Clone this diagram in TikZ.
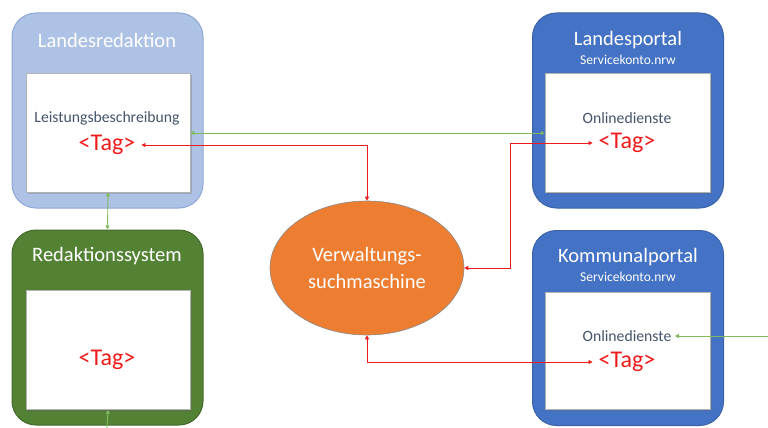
\documentclass[tikz,border=0pt]{standalone}
\usepackage{fontspec}
\setmainfont{Carlito}
\usetikzlibrary{shapes.geometric,arrows.meta}

\definecolor{lightblue}{HTML}{ADC2E5}
\definecolor{lightblueedge}{HTML}{8EA7D6}
\definecolor{portalblue}{HTML}{4472C4}
\definecolor{portaledge}{HTML}{3A62AA}
\definecolor{sysgreen}{HTML}{548235}
\definecolor{sysgreenedge}{HTML}{43692A}
\definecolor{searchorange}{HTML}{ED7D31}
\definecolor{linkgreen}{HTML}{80BA5C}
\definecolor{tagred}{HTML}{F01A1A}
\definecolor{bodytext}{HTML}{44546A}

\tikzset{
  outerbox/.style={rectangle, rounded corners=24pt, minimum width=191pt, minimum height=195pt, line width=1pt},
  innerbox/.style={rectangle, fill=white, draw=black!30, line width=0.5pt, minimum width=164pt, minimum height=119pt},
  shadowbox/.style={rectangle, fill=black!60, opacity=0.3, minimum width=164pt, minimum height=119pt},
  title/.style={text=white, font=\fontsize{20.5}{24}\selectfont},
  subtitle/.style={text=white, font=\fontsize{13.5}{16}\selectfont},
  body/.style={text=bodytext, font=\fontsize{15.7}{18}\selectfont},
  tagtext/.style={text=tagred, font=\fontsize{24}{28}\selectfont, inner sep=6pt},
  redlink/.style={draw=tagred, line width=0.9pt, {Triangle[width=4pt,length=4pt]}-{Triangle[width=4pt,length=4pt]}},
  greenlink/.style={draw=linkgreen, line width=0.9pt, {Triangle[width=4pt,length=4pt]}-{Triangle[width=4pt,length=4pt]}},
  greenin/.style={draw=linkgreen, line width=0.9pt, -{Triangle[width=4pt,length=4pt]}}
}

\begin{document}
\begin{tikzpicture}[x=1pt, y=-1pt]
  \useasboundingbox[fill=white] (0,0) rectangle (768,428);

  % outer frames
  \node[outerbox, fill=lightblue, draw=lightblueedge] (lr) at (107.5,110.5) {};
  \node[outerbox, fill=sysgreen, draw=sysgreenedge] (rs) at (107.5,327.5) {};
  \node[outerbox, fill=portalblue, draw=portaledge] (lp) at (628,110.5) {};
  \node[outerbox, fill=portalblue, draw=portaledge] (kp) at (628,328) {};

  % inner panels with soft shadows
  \node[shadowbox] (lrsh) at (109.5,134.5) {};
  \node[innerbox] (lrin) at (108,132.5) {};
  \node[shadowbox] (rssh) at (109.5,352) {};
  \node[innerbox] (rsin) at (108,350) {};
  \node[shadowbox, minimum width=165pt] (lpsh) at (629,134.5) {};
  \node[innerbox, minimum width=165pt] (lpin) at (627.5,132.5) {};
  \node[shadowbox, minimum width=165pt, minimum height=117pt] (kpsh) at (629,352.5) {};
  \node[innerbox, minimum width=165pt, minimum height=117pt] (kpin) at (627.5,350.5) {};

  % titles
  \node[title] (lrtitle) at (107,40) {Landesredaktion};
  \node[title] (rstitle) at (107,256) {Redaktionssystem};
  \node[title] (lptitle) at (628,40) {Landesportal};
  \node[subtitle] (lpsub) at (628,60) {Servicekonto.nrw};
  \node[title] (kptitle) at (628,257) {Kommunalportal};
  \node[subtitle] (kpsub) at (628,277) {Servicekonto.nrw};

  % panel contents
  \node[body] (leist) at (107,118) {Leistungsbeschreibung};
  \node[tagtext] (tag1) at (107,145) {<Tag>};
  \node[tagtext] (tag4) at (107,360) {<Tag>};
  \node[body] (online1) at (627,118) {Onlinedienste};
  \node[tagtext] (tag2) at (627,143) {<Tag>};
  \node[body] (online2) at (627,336) {Onlinedienste};
  \node[tagtext] (tag3) at (627,362) {<Tag>};

  % search engine
  \node[ellipse, fill=searchorange, draw=black!45, line width=0.6pt,
        minimum width=194pt, minimum height=134pt, align=center,
        text=white, font=\fontsize{20.5}{27}\selectfont] (ell) at (367,268) {Verwaltungs-\\suchmaschine};

  % green links
  \draw[greenlink] (lrin.east |- 0,133) -- (lpin.west |- 0,133);
  \draw[greenlink] (lrin.south) -- (rs.north);
  \coordinate (feedbottom) at (107,428);
  \draw[greenin] (feedbottom) -- (rsin.south);
  \coordinate (feedright) at (768,336);
  \draw[greenin] (feedright) -- (online2.east);

  % red tag links
  \draw[redlink] (tag1.east) -| (ell.north);
  \coordinate (bend) at (510,268);
  \draw[redlink] (ell.east) -- (bend) |- (tag2.west);
  \draw[redlink] (ell.south) |- (tag3.west);
\end{tikzpicture}
\end{document}
